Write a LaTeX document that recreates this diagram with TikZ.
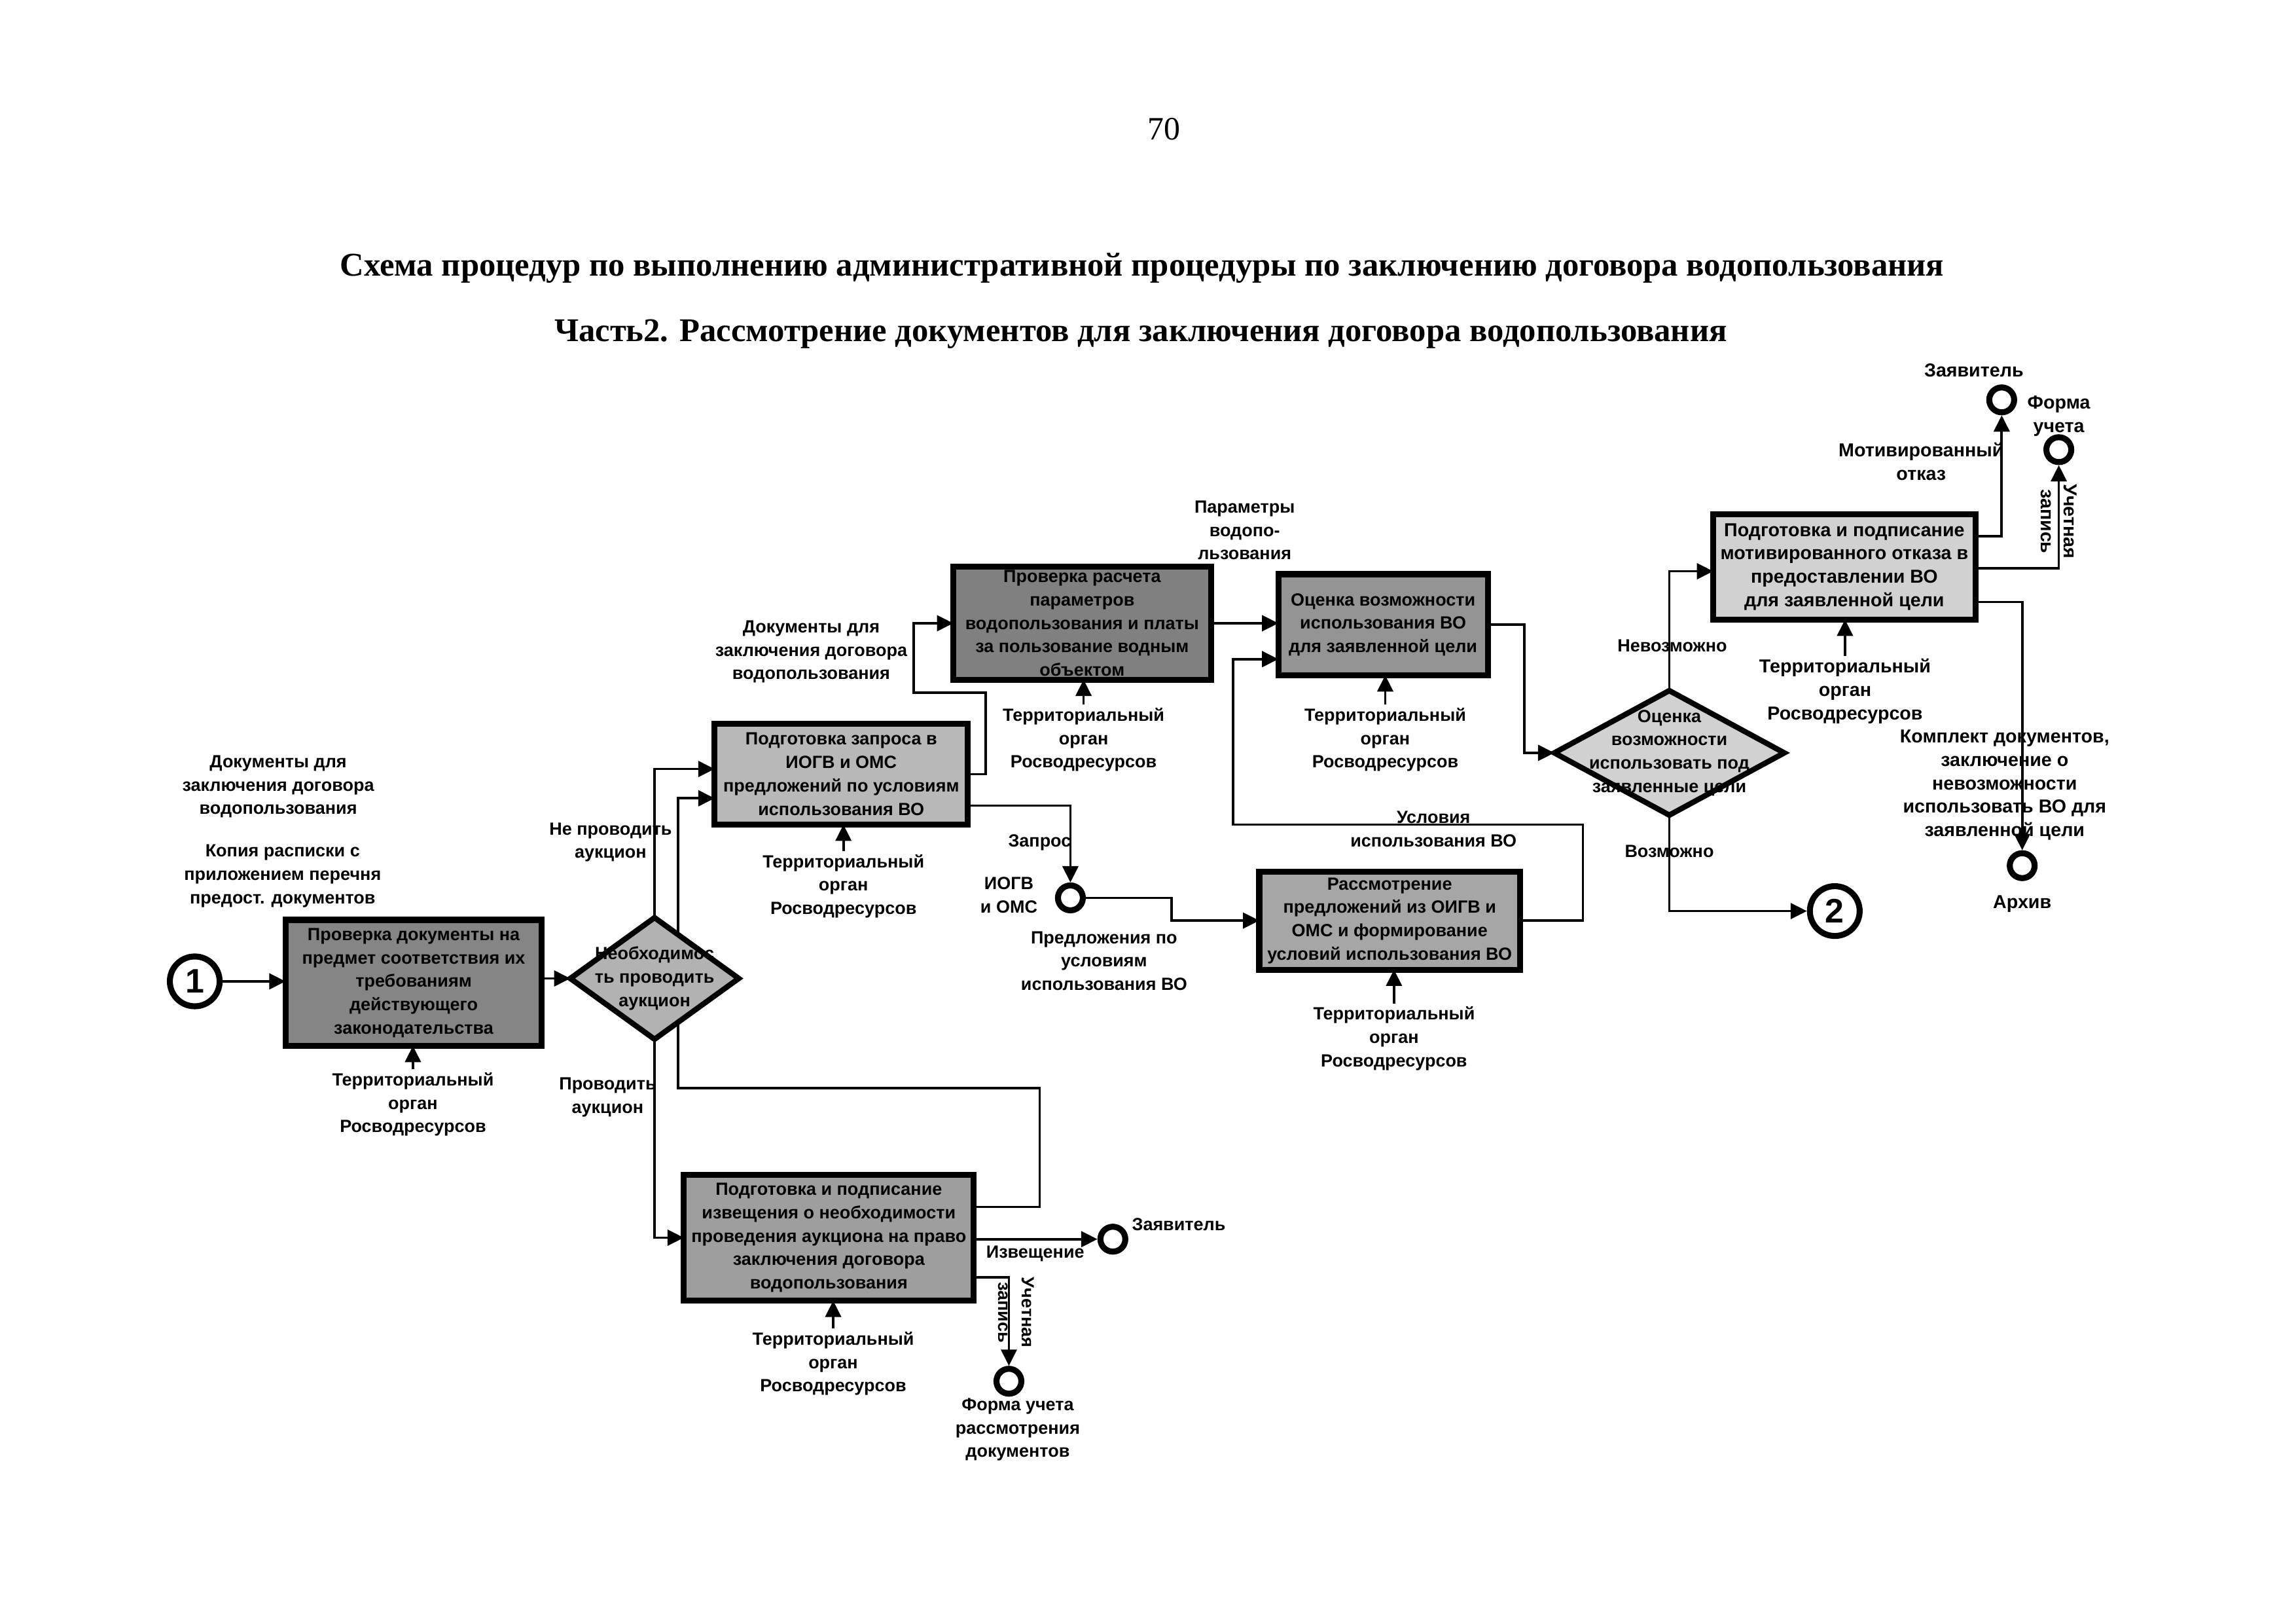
\documentclass[tikz,border=0pt]{standalone}
\usepackage{fontspec}
\setmainfont{Liberation Serif}
\newfontfamily\lsans{Liberation Sans}
\usetikzlibrary{arrows.meta,shapes.geometric}
\newlength\spx
\setlength\spx{0.18941mm}
\newcommand\lblfont{\lsans\bfseries\fontsize{6.5}{8.6}\selectfont}
\newcommand\rlblfont{\lsans\bfseries\fontsize{6.9}{8.6}\selectfont}
\newcommand\bigcfont{\lsans\bfseries\fontsize{12.5}{13}\selectfont}
\pgfdeclarelayer{bg}
\pgfsetlayers{bg,main}
\begin{document}
\begin{tikzpicture}[x=0.18941mm,y=-0.18941mm,
  conn/.style={line width=0.9pt},
  arr/.style={conn,-{Triangle[length=6pt,width=5.8pt]}},
  proc/.style={draw,line width=2.2pt,inner sep=0pt,outer sep=0pt,align=center,font=\lblfont},
  dia/.style={diamond,draw,line width=2pt,inner sep=0pt,outer sep=0pt},
  bigc/.style={circle,draw,line width=2.2pt,fill=white,inner sep=0pt,minimum size=34\spx,font=\bigcfont},
  smc/.style={circle,draw,line width=2.2pt,fill=white,inner sep=0pt,minimum size=17\spx},
  lbl/.style={align=center,inner sep=0pt,font=\lblfont},
  rlbl/.style={align=center,inner sep=0pt,font=\rlblfont},
]
\useasboundingbox (0,0) rectangle (1568,1108);

% titles
\node[font=\fontsize{12}{14}\selectfont] (pg) at (795,88) {70};
\node[font=\bfseries\fontsize{12.2}{14}\selectfont] (ti1) at (780,183) {Схема процедур по выполнению административной процедуры по заключению договора водопользования};
\node[font=\bfseries\fontsize{12.2}{14}\selectfont] (ti2) at (779,228) {Часть2. Рассмотрение документов для заключения договора водопользования};

% process boxes
\node[proc,fill=black!48,minimum width=175\spx,minimum height=86\spx] (b1) at (282.5,671) {Проверка документы на\\предмет соответствия их\\требованиям\\действующего\\законодательства};
\node[proc,fill=black!28,minimum width=173\spx,minimum height=69\spx] (b2) at (574.5,528.5) {Подготовка запроса в\\ИОГВ и ОМС\\предложений по условиям\\использования ВО};
\node[proc,fill=black!50,minimum width=176\spx,minimum height=77\spx] (b3) at (739,425.5) {Проверка расчета\\параметров\\водопользования и платы\\за пользование водным\\объектом};
\node[proc,fill=black!42,minimum width=143\spx,minimum height=69\spx] (b4) at (944.5,426.5) {Оценка возможности\\использования ВО\\для заявленной цели};
\node[proc,fill=black!38,minimum width=198\spx,minimum height=86\spx] (b5) at (566,845) {Подготовка и подписание\\извещения о необходимости\\проведения аукциона на право\\заключения договора\\водопользования};
\node[proc,fill=black!35,minimum width=178\spx,minimum height=67\spx] (b6) at (949,628.5) {Рассмотрение\\предложений из ОИГВ и\\ОМС и формирование\\условий использования ВО};
\node[proc,fill=black!18,font=\rlblfont,minimum width=179\spx,minimum height=72\spx] (b7) at (1259.5,387) {Подготовка и подписание\\мотивированного отказа в\\предоставлении ВО\\для заявленной цели};

% decisions
\node[dia,fill=black!30,minimum width=115\spx,minimum height=83\spx] (d1) at (447,668) {};
\node[lbl] (d1t) at (d1) {Необходимос\\ть проводить\\аукцион};
\node[dia,fill=black!18,minimum width=157\spx,minimum height=85\spx] (d2) at (1140,514) {};
\node[lbl] (d2t) at (d2) {Оценка\\возможности\\использовать под\\заявленные цели};

% circles
\node[bigc] (c1) at (133,670) {1};
\node[bigc] (c2) at (1253,622) {2};
\node[smc] (s1) at (731,613) {};
\node[smc] (s2) at (1367,273) {};
\node[smc] (s3) at (1406,307) {};
\node[smc] (s4) at (1381,591) {};
\node[smc] (s5) at (760,846) {};
\node[smc] (s6) at (689,943) {};

% labels
\node[lbl] (l1) at (190,537) {Документы для\\заключения договора\\водопользования};
\node[lbl] (l2) at (193,598) {Копия расписки с\\приложением перечня\\предост. документов};
\node[lbl] (l3) at (417,575) {Не проводить\\аукцион};
\node[lbl] (l4) at (415,749) {Проводить\\аукцион};
\node[lbl] (l5) at (554,445) {Документы для\\заключения договора\\водопользования};
\node[lbl] (l6) at (710,575) {Запрос};
\node[lbl] (l7) at (689,611) {ИОГВ\\и ОМС};
\node[lbl] (l8) at (754,656) {Предложения по\\условиям\\использования ВО};
\node[lbl] (l9) at (850,362) {Параметры\\водопо-\\льзования};
\node[lbl] (l10) at (979,566) {Условия\\использования ВО};
\node[lbl] (l11) at (1142,441) {Невозможно};
\node[lbl] (l12) at (1140,581) {Возможно};
\node[rlbl] (l13) at (1312,315) {Мотивированный\\отказ};
\node[rlbl] (l14) at (1348,253) {Заявитель};
\node[rlbl] (l15) at (1406,284) {Форма\\учета};
\node[rlbl,rotate=-90] (l16) at (1406,356) {Учетная\\запись};
\node[rlbl] (l17) at (1369,536) {Комплект документов,\\заключение о\\невозможности\\использовать ВО для\\заявленной цели};
\node[rlbl] (l18) at (1381,617) {Архив};
\node[lbl] (l19) at (805,836) {Заявитель};
\node[lbl] (l20) at (707,856) {Извещение};
\node[lbl,rotate=-90] (l21) at (694,896) {Учетная\\запись};
\node[lbl] (l22) at (695,976) {Форма учета\\рассмотрения\\документов};

% mechanisms
\node[lbl] (r1) at (282,754) {Территориальный\\орган\\Росводресурсов};
\node[lbl] (r2) at (576,605) {Территориальный\\орган\\Росводресурсов};
\node[lbl] (r3) at (740,505) {Территориальный\\орган\\Росводресурсов};
\node[lbl] (r4) at (946,505) {Территориальный\\орган\\Росводресурсов};
\node[lbl] (r5) at (569,931) {Территориальный\\орган\\Росводресурсов};
\node[lbl] (r6) at (952,709) {Территориальный\\орган\\Росводресурсов};
\node[rlbl] (r7) at (1260,472) {Территориальный\\орган\\Росводресурсов};

\begin{pgfonlayer}{bg}
\draw[arr] (c1.east) -- (c1.east -| b1.west);
\draw[arr] (b1.east |- d1) -- (d1.west);
\draw[arr] (d1.north) |- (b2.west |- 0,525);
\draw[arr] (b5.east |- 0,824) -- (710,824) -- (710,743) -- (463,743) -- (463,545) -- (b2.west |- 0,545);
\draw[arr] (d1.south) |- (b5.west);
\draw[arr] (b2.east) -| (673,473) -| (624,425.5) -- (b3.west);
\draw[arr] (b2.east |- 0,550) -| (s1.north);
\draw[arr] (s1.east) -| (800,628.5) -- (b6.west);
\draw[arr] (b3.east) -- (b3.east -| b4.west);
\draw[arr] (b6.east) -| (1081,563) -| (842,450) -- (b4.west |- 0,450);
\draw[arr] (b4.east) -| (1041,514) -- (d2.west);
\draw[arr] (d2.north) |- (b7.west |- 0,390);
\draw[arr] (d2.south) |- (c2.west);
\draw[arr] (b7.east |- 0,366) -| (s2.south);
\draw[arr] (b7.east |- 0,388) -| (s3.south);
\draw[arr] (b7.east |- 0,411) -| (s4.north);
\draw[arr] (b5.east |- 0,846) -- (s5.west);
\draw[arr] (b5.east |- 0,872) -| (s6.north);
\foreach \r/\b in {r1/b1,r2/b2,r3/b3,r4/b4,r5/b5,r6/b6,r7/b7}
  \draw[arr] ([yshift=1pt]\r.north) -- (\r.north |- \b.south);
\end{pgfonlayer}
\end{tikzpicture}
\end{document}
